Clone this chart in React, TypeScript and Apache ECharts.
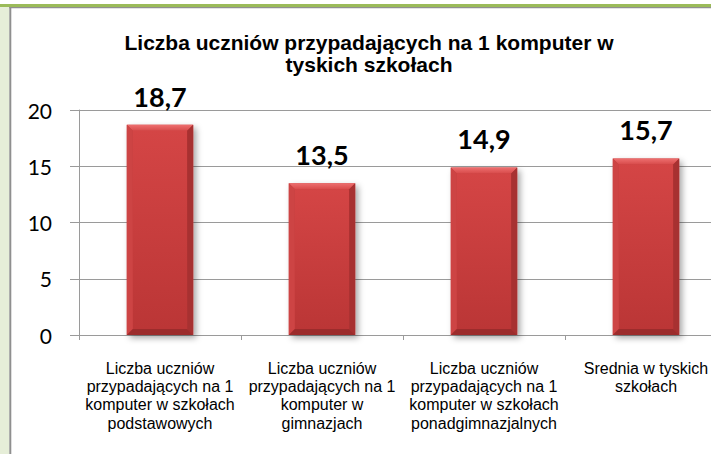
import React, { useEffect, useRef } from "react";
import * as echarts from "echarts";

const titleText = "Liczba uczniów przypadających na 1 komputer w\ntyskich szkołach";
const categories = [
  "Liczba uczniów\nprzypadających na 1\nkomputer w szkołach\npodstawowych",
  "Liczba uczniów\nprzypadających na 1\nkomputer w\ngimnazjach",
  "Liczba uczniów\nprzypadających na 1\nkomputer w szkołach\nponadgimnazjalnych",
  "Srednia w tyskich\nszkołach",
];
const values = [18.7, 13.5, 14.9, 15.7];
const yMin = 0;
const yMax = 20;
const yStep = 5;

export default function App() {
  const ref = useRef<HTMLDivElement>(null);

  useEffect(() => {
    if (!ref.current) return;
    const chart = echarts.init(ref.current, undefined, { renderer: "svg" });
    const gray = "#9a9a9a";

    const option: any = {
      animation: false,
      backgroundColor: "#ffffff",
      grid: {
        left: 79,
        top: 110,
        bottom: 119,
        right: -16,
        containLabel: false,
        outerBoundsMode: "none",
      },
      graphic: [
        { type: "rect", shape: { x: 0, y: 4, width: 711, height: 3 }, style: { fill: "#9bbb59" }, silent: true },
        { type: "rect", shape: { x: 9, y: 7, width: 702, height: 1.3 }, style: { fill: "#8f8f8f" }, silent: true },
        { type: "rect", shape: { x: 0, y: 7, width: 9.3, height: 447 }, style: { fill: "#e6eed8" }, silent: true },
        { type: "rect", shape: { x: 9.3, y: 7, width: 2, height: 447 }, style: { fill: "#8f8f8f" }, silent: true },
        {
          type: "text",
          x: 369,
          y: 32,
          style: {
            text: titleText,
            align: "center",
            verticalAlign: "top",
            fontFamily: "'Liberation Sans', Arial, sans-serif",
            fontWeight: "bold",
            fontSize: 21,
            lineHeight: 21.5,
            fill: "#000000",
          },
        },
      ],
      xAxis: {
        type: "category",
        data: categories,
        boundaryGap: true,
        axisLine: { show: true, lineStyle: { color: gray, width: 1 } },
        axisTick: { show: true, length: 5, lineStyle: { color: gray } },
        axisLabel: {
          interval: 0,
          margin: 24,
          color: "#000000",
          fontFamily: "'Liberation Sans', Arial, sans-serif",
          fontSize: 16,
          lineHeight: 18.3,
          align: "center",
        },
        splitLine: { show: false },
      },
      yAxis: {
        type: "value",
        min: yMin,
        max: yMax,
        interval: yStep,
        axisLine: { show: true, lineStyle: { color: gray, width: 1 } },
        axisTick: { show: true, length: 9, lineStyle: { color: gray } },
        axisLabel: {
          margin: 27,
          color: "#000000",
          fontFamily: "Lato, 'Noto Sans', sans-serif",
          fontSize: 21,
        },
        splitLine: { show: true, lineStyle: { color: gray, width: 1 } },
      },
      series: [
        {
          type: "custom",
          data: values.map((v, i) => [i, v]),
          encode: { x: 0, y: 1 },
          renderItem: (params: any, api: any) => {
            const idx = api.value(0);
            const v = api.value(1);
            const top = api.coord([idx, v]);
            const base = api.coord([idx, 0]);
            const bw = api.size([1, 0])[0] * 0.41;
            const cx = top[0];
            const ty = top[1];
            const by = base[1];
            const l = cx - bw / 2;
            const r = cx + bw / 2;
            const d = 6;
            const label = String(v).replace(".", ",");
            return {
              type: "group",
              children: [
                {
                  type: "rect",
                  shape: { x: l, y: ty, width: bw, height: by - ty },
                  style: {
                    fill: "#c13b3b",
                    shadowBlur: 6,
                    shadowOffsetX: 3,
                    shadowOffsetY: 3,
                    shadowColor: "rgba(0,0,0,0.35)",
                  },
                },
                {
                  type: "rect",
                  shape: { x: l + d, y: ty + d, width: bw - 2 * d, height: Math.max(0, by - ty - 2 * d) },
                  style: {
                    fill: new echarts.graphic.LinearGradient(0, 0, 0, 1, [
                      { offset: 0, color: "#d44545" },
                      { offset: 1, color: "#bb3636" },
                    ]),
                  },
                },
                {
                  type: "polygon",
                  shape: { points: [[l, ty], [r, ty], [r - d, ty + d], [l + d, ty + d]] },
                  style: {
                    fill: new echarts.graphic.LinearGradient(0, 0, 0, 1, [
                      { offset: 0, color: "#ee7070" },
                      { offset: 1, color: "#d84b4b" },
                    ]),
                  },
                },
                {
                  type: "polygon",
                  shape: { points: [[l, ty], [l + d, ty + d], [l + d, by - d], [l, by]] },
                  style: { fill: "#cd4444" },
                },
                {
                  type: "polygon",
                  shape: { points: [[r, ty], [r, by], [r - d, by - d], [r - d, ty + d]] },
                  style: { fill: "#a73131" },
                },
                {
                  type: "polygon",
                  shape: { points: [[l, by], [l + d, by - d], [r - d, by - d], [r, by]] },
                  style: { fill: "#9c2c2c" },
                },
                {
                  type: "text",
                  style: {
                    text: label,
                    x: cx,
                    y: ty - 15,
                    align: "center",
                    verticalAlign: "bottom",
                    fontFamily: "Lato, 'Noto Sans', sans-serif",
                    fontWeight: "bold",
                    fontSize: 27,
                    fill: "#000000",
                  },
                },
              ],
            };
          },
        },
      ],
    };

    chart.setOption(option);
    return () => {
      chart.dispose();
    };
  }, []);

  return (
    <div
      ref={ref}
      style={{ position: "fixed", left: 0, top: 0, width: 711, height: 454, background: "#ffffff" }}
    />
  );
}
